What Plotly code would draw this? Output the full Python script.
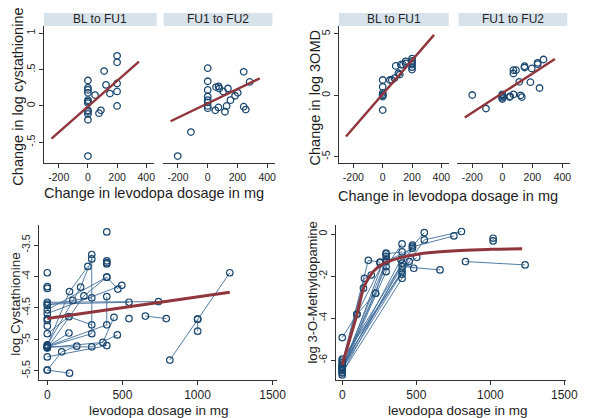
import plotly.graph_objects as go

W, H = 592, 418
def fx(px): return px / W
def fy(py): return 1 - py / H

# ---------------- data ----------------
facet_labels = ["BL to FU1", "FU1 to FU2"]
fit_dx = [-250, 350]

# Top-left: change in log cystathionine
cys_bl_fu1_dx = [0, 0, 0, 0, 0, 0, 0, 0, 0, 0, 0, 0, 49, 76, 89, 111, 124, 151, 200, 200, 200, 200, 200]
cys_bl_fu1_dy = [0.35, 0.25, 0.22, 0.18, 0.08, 0.06, 0.04, -0.06, -0.08, -0.11, -0.19, -0.69,
                 0.15, -0.10, -0.06, 0.48, 0.29, 0.17, 0.69, 0.60, 0.31, 0.20, 0.0]
cys_fu1_fu2_dx = [-202, -113, 0, 0, 0, 0, 0, 0, 0, 0, 51, 56, 73, 78, 72, 104, 116, 127, 136, 153,
                  184, 202, 242, 242, 256, 282]
cys_fu1_fu2_dy = [-0.69, -0.36, 0.52, 0.34, 0.22, 0.13, 0.08, 0.05, 0.0, -0.03, -0.06, 0.26, 0.27,
                  0.24, -0.02, 0.20, -0.08, 0.0, 0.24, 0.08, 0.14, 0.18, 0.47, -0.01, -0.05, 0.33]
cys_fit_bl = [-0.45, 0.61]
cys_fit_fu = [-0.21, 0.38]

# Top-right: change in log 3OMD
omd_bl_fu1_dx = [0, 0, 0, 0, 0, 0, 0, 49, 62, 80, 89, 107, 116, 124, 138, 156, 156, 200, 200, 200,
                 200, 200, 200]
omd_bl_fu1_dy = [-1.2, -0.1, 0.0, 0.05, 0.2, 0.7, 1.25, 1.25, 1.25, 1.4, 2.4, 1.8, 1.7, 2.5, 2.5,
                 2.77, 2.6, 3.0, 2.8, 2.65, 2.5, 2.3, 2.1]
omd_fu1_fu2_dx = [-200, -109, 0, 0, 0, 0, 0, 48, 52, 74, 74, 74, 91, 113, 122, 130, 148, 148, 196,
                  187, 235, 235, 248, 274]
omd_fu1_fu2_dy = [0.03, -1.07, 0.08, 0.0, -0.1, -0.2, -0.3, -0.14, -0.08, 0.08, 1.78, 2.05, 2.05,
                  1.1, 0.0, -0.14, 2.38, 2.27, 2.19, 1.07, 2.65, 2.54, 0.6, 2.92]
omd_fit_bl = [-3.35, 4.93]
omd_fit_fu = [-1.81, 2.96]

# Bottom-left: log cystathionine per subject over visits
cys_subj_dose = [
    [0, 148], [0, 96, 196], [0, 296, 466], [0, 148, 270], [0, 222, 296], [0, 244, 396],
    [0, 296, 296], [0, 396, 396], [0, 170, 296], [0, 740], [0, 544], [0, 144, 296],
    [0, 144], [0, 370, 444], [0, 396], [0, 396, 470], [0, 496], [544], [653, 792],
    [816, 1001, 1215], [1001, 1001], [396], [396], [396], [396], [0], [0], [0], [0], [0], [0],
]
cys_subj_val = [
    [-5.49, -5.54], [-5.49, -5.20, -5.11], [-5.12, -5.12, -4.93], [-5.10, -4.24, -3.84],
    [-5.09, -4.17, -3.72], [-5.14, -4.31, -4.01], [-5.12, -4.91, -3.65], [-5.11, -4.77, -4.32],
    [-4.46, -4.38, -4.34], [-4.41, -4.40], [-4.44, -4.41], [-4.91, -4.64, -4.77],
    [-5.12, -4.90], [-5.13, -5.05, -4.65], [-5.28, -5.10], [-4.53, -4.01, -4.20], [-4.59, -4.14],
    [-4.67], [-4.63, -4.67], [-5.33, -4.68, -3.94], [-4.87, -4.68], [-3.29], [-3.75], [-3.78],
    [-3.80], [-3.94], [-4.16], [-4.19], [-4.67], [-4.79], [-4.70],
]
cys_fit_dose = [0, 1215]
cys_fit_val = [-4.67, -4.25]

# Bottom-right: log 3-O-Methyldopamine per subject over visits
omd_subj_dose = [
    [0, 99, 225], [0, 150, 196], [0, 143, 254], [0, 176, 256], [0, 296, 404], [0, 296, 296],
    [0, 404, 660], [0, 404, 474], [0, 404, 452], [0, 404, 503], [0, 296, 474], [0, 474, 754],
    [0, 554, 805], [0, 296, 404], [0, 404, 483], [832, 1235], [1019, 1019], [0, 99, 296],
    [0, 225, 298], [0, 396, 554], [0],
]
omd_subj_val = [
    [-4.92, -3.81, -2.81], [-6.20, -2.10, -1.94], [-6.30, -2.57, -1.35], [-6.10, -1.24, -1.33],
    [-6.40, -1.54, -0.46], [-6.50, -1.78, -0.90], [-6.30, -1.54, -1.70], [-6.60, -2.10, -0.52],
    [-6.40, -1.90, -1.30], [-6.20, -1.75, -1.10], [-6.30, -1.30, -0.67], [-6.00, -0.60, -0.08],
    [-5.94, -0.27, 0.13], [-6.50, -0.94, -0.84], [-6.60, -1.38, -1.62], [-1.30, -1.46],
    [-0.19, -0.32], [-6.30, -3.80, -1.05], [-6.35, -2.81, -1.20], [-6.45, -1.20, 0.08], [-6.70],
]
omd_fit_dose = [0, 50, 100, 150, 200, 250, 300, 400, 500, 600, 800, 1000, 1215]
omd_fit_val = [-6.22, -5.0, -3.8, -2.45, -1.85, -1.52, -1.33, -1.1, -0.96, -0.87, -0.77, -0.72, -0.69]

# ---------------- styling ----------------
NAVY = '#1a476f'
MAROON = '#90353b'
LINEBLUE = '#3f6d9b'
FONT = 'Liberation Sans, Arial, sans-serif'
TXT = '#1e1e1e'

fig = go.Figure()

def add_points(xs, ys, ax):
    fig.add_trace(go.Scatter(
        x=xs, y=ys, mode='markers', xaxis='x' + ax, yaxis='y' + ax,
        marker=dict(symbol='circle-open', size=6.5, color=NAVY, line=dict(width=1.3, color=NAVY)),
        showlegend=False, hoverinfo='skip'))

def add_fit(xs, ys, ax, width=2.4, shape='linear'):
    fig.add_trace(go.Scatter(
        x=xs, y=ys, mode='lines', xaxis='x' + ax, yaxis='y' + ax,
        line=dict(color=MAROON, width=width, shape=shape),
        showlegend=False, hoverinfo='skip'))

def add_spaghetti(doses, vals, ax):
    xs, ys = [], []
    for d, v in zip(doses, vals):
        xs += list(d) + [None]
        ys += list(v) + [None]
    fig.add_trace(go.Scatter(
        x=xs, y=ys, mode='lines+markers', xaxis='x' + ax, yaxis='y' + ax,
        line=dict(color=LINEBLUE, width=0.9),
        marker=dict(symbol='circle-open', size=6.5, color=NAVY, line=dict(width=1.2, color=NAVY)),
        showlegend=False, hoverinfo='skip', connectgaps=False))

# top-left facets
add_points(cys_bl_fu1_dx, cys_bl_fu1_dy, '')
add_fit(fit_dx, cys_fit_bl, '')
add_points(cys_fu1_fu2_dx, cys_fu1_fu2_dy, '2')
add_fit(fit_dx, cys_fit_fu, '2')
# top-right facets
add_points(omd_bl_fu1_dx, omd_bl_fu1_dy, '3')
add_fit(fit_dx, omd_fit_bl, '3')
add_points(omd_fu1_fu2_dx, omd_fu1_fu2_dy, '4')
add_fit(fit_dx, omd_fit_fu, '4')
# bottom panels
add_spaghetti(cys_subj_dose, cys_subj_val, '5')
add_fit(cys_fit_dose, cys_fit_val, '5', width=3)
add_spaghetti(omd_subj_dose, omd_subj_val, '6')
add_fit(omd_fit_dose, omd_fit_val, '6', width=3, shape='spline')

axc = dict(showgrid=False, zeroline=False, showline=True, linecolor='#333', linewidth=1,
           ticks='outside', ticklen=4, tickcolor='#333', tickwidth=1,
           tickfont=dict(family=FONT, size=10.5, color=TXT))

def xax(px0, px1, rng, tv, yname, size=10.5):
    d = dict(axc)
    d.update(domain=[fx(px0), fx(px1)], range=rng, tickvals=tv, ticktext=[str(t) for t in tv],
             anchor=yname, tickfont=dict(family=FONT, size=size, color=TXT))
    return d

def yax(py0, py1, rng, tv, tt, xname, show=True):
    d = dict(axc)
    d.update(domain=[fy(py1), fy(py0)], range=rng, tickvals=tv, ticktext=tt, anchor=xname,
             tickangle=-90)
    if not show:
        d.update(showline=False, ticks='', showticklabels=False)
    return d

top0, top1 = 26, 163
bot0, bot1 = 225, 380
xr_top = [-300, 450]
cys_dy_rng = [-0.785, 1.10]
omd_dy_rng = [-5.51, 5.65]
tv_top = [-200, 0, 200, 400]
tv_bot = [0, 500, 1000, 1500]

fig.update_layout(
    width=W, height=H, margin=dict(l=0, r=0, t=0, b=0),
    paper_bgcolor='white', plot_bgcolor='white',
    font=dict(family=FONT, color=TXT),
    xaxis=xax(45.1, 156.7, xr_top, tv_top, 'y'),
    yaxis=yax(top0, top1, cys_dy_rng, [-0.5, 0, 0.5, 1], ['-.5', '0', '.5', '1'], 'x'),
    xaxis2=xax(166.5, 280.3, xr_top, tv_top, 'y2'),
    yaxis2=yax(top0, top1, cys_dy_rng, [-0.5, 0, 0.5, 1], ['-.5', '0', '.5', '1'], 'x2', show=False),
    xaxis3=xax(345.7, 458, xr_top, tv_top, 'y3'),
    yaxis3=yax(top0, top1, omd_dy_rng, [-5, 0, 5], ['-5', '0', '5'], 'x3'),
    xaxis4=xax(466.7, 581.7, xr_top, tv_top, 'y4'),
    yaxis4=yax(top0, top1, omd_dy_rng, [-5, 0, 5], ['-5', '0', '5'], 'x4', show=False),
    xaxis5=xax(40, 283, [-54, 1531], tv_bot, 'y5', size=12),
    yaxis5=yax(bot0, bot1, [-5.648, -3.18], [-5.5, -5, -4.5, -4, -3.5],
               ['-5.5', '-5', '-4.5', '-4', '-3.5'], 'x5'),
    xaxis6=xax(342.7, 577.7, [-44, 1511], tv_bot, 'y6', size=12),
    yaxis6=yax(bot0, bot1, [-6.94, 0.44], [-6, -4, -2, 0], ['-6', '-4', '-2', '0'], 'x6'),
)

# facet strips
shapes = []
annotations = []
STRIP = '#d7e2ea'
for (x0, x1), lab in zip([(45, 160), (167, 278), (346, 458), (468, 579)], facet_labels * 2):
    shapes.append(dict(type='rect', xref='paper', yref='paper', x0=fx(x0), x1=fx(x1),
                       y0=fy(26), y1=fy(13), fillcolor=STRIP, line=dict(width=0), layer='below'))
    annotations.append(dict(x=fx((x0 + x1) / 2), y=fy(19.5), xref='paper', yref='paper', text=lab,
                            showarrow=False, font=dict(family=FONT, size=12, color=TXT),
                            xanchor='center', yanchor='middle'))

def title(text, px, py, size, angle=0):
    annotations.append(dict(x=fx(px), y=fy(py), xref='paper', yref='paper', text=text,
                            showarrow=False, textangle=angle, xanchor='center', yanchor='middle',
                            font=dict(family=FONT, size=size, color=TXT)))

title('Change in log cystathionine', 18, 97, 14.5, -90)
title('Change in levodopa dosage in mg', 157, 193, 14.5)
title('Change in log 3OMD', 322, 98, 14.5, -90)
title('Change in levodopa dosage in mg', 457, 196, 14.5)
title('log Cystathionine', 15, 304, 13.5, -90)
title('levodopa dosage in mg', 162, 410, 13.5)
title('log 3-O-Methyldopamine', 318, 293, 13, -90)
title('levodopa dosage in mg', 467, 410, 13.5)

fig.update_layout(shapes=shapes, annotations=annotations)
fig.write_html('out.html', config={'displayModeBar': False, 'staticPlot': True},
               post_script="document.body.style.margin='0';document.body.style.overflow='hidden';")
